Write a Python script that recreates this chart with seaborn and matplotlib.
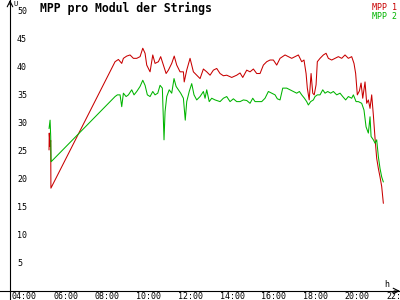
import matplotlib
matplotlib.use("Agg")
import matplotlib.pyplot as plt
import matplotlib.transforms as mtransforms
import seaborn as sns
import pandas as pd

# --- data (hours of day, values) ---
mpp1_hours = [5.61, 5.62, 5.66, 5.69, 5.70,
              8.78, 8.94, 9.10, 9.18, 9.34, 9.50, 9.66, 9.82, 9.98, 10.11, 10.22, 10.30,
              10.46, 10.59, 10.70, 10.86, 10.97, 11.10, 11.23, 11.34, 11.50, 11.62, 11.74,
              11.90, 12.06, 12.10, 12.22, 12.38, 12.54, 12.70, 12.86,
              13.02, 13.18, 13.34, 13.50, 13.66, 13.82, 13.98, 14.14, 14.38, 14.62, 14.78,
              14.91, 15.10, 15.26, 15.42, 15.58, 15.74, 15.90, 16.06, 16.22, 16.38, 16.54,
              16.70, 16.94, 17.10, 17.26, 17.42, 17.58, 17.74, 17.85, 17.95, 18.01, 18.10,
              18.19, 18.27, 18.34, 18.43, 18.49, 18.62, 18.78, 18.91, 19.02, 19.18, 19.34,
              19.50, 19.66, 19.82, 19.98, 20.14, 20.25, 20.33, 20.41, 20.51, 20.59, 20.67,
              20.78, 20.86, 20.94, 21.02, 21.10, 21.18, 21.26, 21.34, 21.42, 21.50, 21.58,
              21.66]
mpp1_values = [25.1, 28.1, 25.7, 26.8, 18.3,
               40.8, 41.2, 40.5, 41.4, 41.8, 42.0, 41.4, 41.4, 41.7, 43.2, 42.3, 40.2,
               39.0, 42.0, 40.5, 40.8, 41.7, 40.2, 38.7, 39.3, 40.5, 41.8, 40.2,
               39.0, 39.0, 37.2, 39.3, 41.4, 39.0, 38.4, 37.8,
               39.5, 39.0, 38.4, 39.3, 39.6, 38.7, 38.3, 38.4, 38.0, 38.4, 38.8,
               38.0, 39.3, 39.0, 39.5, 38.7, 38.7, 40.2, 40.8, 41.1, 41.1, 40.2,
               41.4, 42.0, 41.7, 41.4, 41.7, 42.0, 40.8, 41.1, 38.7, 36.1, 34.0,
               38.7, 35.2, 34.9, 36.7, 40.8, 41.4, 42.0, 42.3, 41.4, 41.1, 41.4,
               41.7, 41.4, 42.0, 41.4, 41.7, 40.5, 38.7, 34.9, 35.6, 37.0, 34.3,
               37.2, 33.4, 34.0, 32.5, 34.9, 31.3, 27.2, 23.6, 21.8, 20.3, 18.6,
               15.6]

mpp2_hours = [5.61, 5.66, 5.69, 5.71,
              8.78, 8.89, 9.02, 9.10, 9.18, 9.31, 9.42, 9.58, 9.69, 9.82, 9.98, 10.11,
              10.22, 10.33, 10.46, 10.59, 10.70, 10.83, 10.94, 11.05, 11.13, 11.18, 11.26,
              11.38, 11.50, 11.61, 11.71, 11.82, 11.93, 12.06, 12.15, 12.22, 12.34, 12.46,
              12.57, 12.70, 12.86, 13.02, 13.10, 13.18, 13.30, 13.42, 13.58, 13.82, 13.98,
              14.14, 14.30, 14.46, 14.62, 14.78, 14.94, 15.10, 15.26, 15.39, 15.50, 15.66,
              15.82, 15.98, 16.14, 16.30, 16.46, 16.57, 16.70, 16.83, 17.02, 17.18, 17.34,
              17.50, 17.63, 17.74, 17.87, 17.98, 18.06, 18.17, 18.30, 18.38, 18.49, 18.62,
              18.75, 18.86, 18.99, 19.13, 19.26, 19.42, 19.58, 19.71, 19.85, 19.98, 20.14,
              20.22, 20.35, 20.46, 20.62, 20.73, 20.83, 20.94, 21.02, 21.07, 21.18, 21.26,
              21.34, 21.42, 21.50, 21.58, 21.66]
mpp2_values = [28.9, 30.4, 27.5, 23.0,
               34.6, 34.9, 34.9, 32.8, 35.2, 34.6, 34.9, 35.8, 34.9, 35.5, 36.4, 37.5,
               36.6, 34.9, 34.6, 35.5, 34.9, 35.2, 36.6, 36.1, 26.9, 31.9, 34.6,
               35.8, 35.2, 37.8, 36.4, 35.8, 35.2, 34.3, 30.4, 33.7, 35.5, 36.9,
               34.9, 34.0, 34.6, 35.5, 34.3, 35.8, 33.7, 34.3, 34.0, 33.7, 34.3,
               34.6, 33.7, 34.2, 33.7, 33.7, 34.0, 33.9, 33.4, 34.3, 33.7, 33.7,
               33.7, 34.3, 35.5, 35.2, 34.9, 34.2, 34.0, 36.1, 36.1, 35.8, 35.5,
               35.2, 35.5, 34.9, 34.3, 33.7, 33.1, 33.7, 34.0, 34.6, 34.9, 34.9,
               35.8, 35.2, 35.5, 35.2, 35.5, 34.9, 35.2, 34.6, 34.0, 34.6, 34.3,
               34.9, 33.7, 33.7, 33.4, 32.2, 29.2, 28.1, 31.0, 27.5, 26.9, 26.3,
               26.9, 23.9, 21.8, 20.3, 19.4]

series_names = ["MPP 1", "MPP 2"]
series_colors = ["#c80000", "#00b400"]
xtick_hours = [4, 6, 8, 10, 12, 14, 16, 18, 20, 22]
xtick_labels = ["04:00", "06:00", "08:00", "10:00", "12:00", "14:00", "16:00",
                "18:00", "20:00", "22:00"]
ytick_values = [5, 10, 15, 20, 25, 30, 35, 40, 45, 50]
title = "MPP pro Modul der Strings"

df = pd.concat([
    pd.DataFrame({"h": mpp1_hours, "v": mpp1_values, "s": series_names[0]}),
    pd.DataFrame({"h": mpp2_hours, "v": mpp2_values, "s": series_names[1]}),
])

sns.set_style("white")
plt.rcParams["font.family"] = ["DejaVu Sans Mono"]

fig = plt.figure(figsize=(4, 3), dpi=100)
ax = fig.add_axes([0, 0, 1, 1])
sns.lineplot(data=df, x="h", y="v", hue="s", palette=series_colors, ax=ax,
             linewidth=0.75, sort=False, estimator=None, legend=True)

ax.set_xlim(3.256, 22.459)
ax.set_ylim(-1.60, 51.78)
ax.set_xlabel("")
ax.set_ylabel("")

for s in ["top", "right"]:
    ax.spines[s].set_visible(False)
ax.spines["left"].set_position(("data", 3.736))
ax.spines["bottom"].set_position(("data", 0))
for s in ["left", "bottom"]:
    ax.spines[s].set_color("black")
    ax.spines[s].set_linewidth(0.8)

ax.set_xticks(xtick_hours)
ax.set_xticklabels(xtick_labels)
ax.set_yticks(ytick_values)
ax.set_yticklabels([str(v) for v in ytick_values])
ax.tick_params(axis="both", direction="inout", length=5, width=0.8, color="black",
               labelsize=6, labelcolor="black")
ax.tick_params(axis="x", pad=-2)
ax.tick_params(axis="y", pad=-7.5)
for lab in ax.get_yticklabels():
    lab.set_ha("left")
off = mtransforms.ScaledTranslation(-4 / 100, 0, fig.dpi_scale_trans)
for lab in ax.get_xticklabels():
    lab.set_ha("left")
    lab.set_transform(lab.get_transform() + off)

# axis arrows and unit labels
ax.annotate("", xy=(1.0, 0), xycoords=("axes fraction", "data"),
            xytext=(0.985, 0), textcoords=("axes fraction", "data"),
            arrowprops=dict(arrowstyle="->", color="black", lw=0.8, shrinkA=0, shrinkB=0))
ax.annotate("", xy=(3.736, 1.0), xycoords=("data", "axes fraction"),
            xytext=(3.736, 0.985), textcoords=("data", "axes fraction"),
            arrowprops=dict(arrowstyle="->", color="black", lw=0.8, shrinkA=0, shrinkB=0))
fig.text(13 / 400, 1 - 1.5 / 300, "U", fontsize=5, ha="left", va="top", color="black")
fig.text(384 / 400, 1 - 280 / 300, "h", fontsize=6, ha="left", va="top", color="black")

fig.text(40 / 400, 1 - 2 / 300, title, fontsize=8.3, fontweight="bold",
         ha="left", va="top", color="black")

leg = ax.legend(loc="upper right", bbox_to_anchor=(1.0, 1.0), frameon=False,
                handlelength=0, handletextpad=0, borderaxespad=0.2,
                labelcolor=series_colors, prop={"size": 6, "family": "DejaVu Sans Mono"},
                labelspacing=0.1, borderpad=0.1)
for h in leg.legend_handles:
    h.set_visible(False)

fig.savefig("out.png", dpi=100, facecolor="white")
